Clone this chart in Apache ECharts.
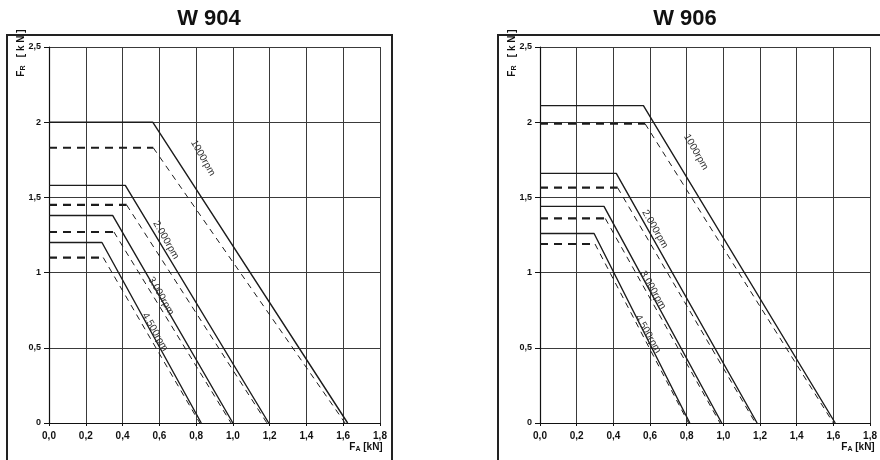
<!DOCTYPE html>
<html><head><meta charset="utf-8">
<script src="https://cdn.jsdelivr.net/npm/echarts@6/dist/echarts.min.js"></script>
<style>html,body{margin:0;padding:0;background:#fff}#c{width:880px;height:460px}</style>
</head><body><div id="c"></div>
<script>
// ---- data ----
const models = ['W 904', 'W 906'];
const rpmLabels = ['1000rpm', '2.000rpm', '3.000rpm', '4.500rpm'];
const xTicks = ['0,0', '0,2', '0,4', '0,6', '0,8', '1,0', '1,2', '1,4', '1,6', '1,8'];
const yTicks = ['0', '0,5', '1', '1,5', '2', '2,5'];

// W 904 : solid (level, knee x, zero crossing x) and dashed (level, knee x, zero crossing x)
const w904SolidLevel = [2.00, 1.58, 1.38, 1.20];
const w904SolidKnee  = [0.564, 0.415, 0.346, 0.288];
const w904SolidEnd   = [1.624, 1.195, 1.000, 0.828];
const w904DashLevel  = [1.83, 1.45, 1.27, 1.10];
const w904DashKnee   = [0.567, 0.422, 0.353, 0.295];
const w904DashEnd    = [1.610, 1.185, 0.990, 0.820];

// W 906
const w906SolidLevel = [2.11, 1.66, 1.44, 1.26];
const w906SolidKnee  = [0.564, 0.416, 0.349, 0.295];
const w906SolidEnd   = [1.610, 1.184, 0.991, 0.817];
const w906DashLevel  = [1.99, 1.565, 1.36, 1.19];
const w906DashKnee   = [0.573, 0.423, 0.356, 0.300];
const w906DashEnd    = [1.600, 1.175, 0.982, 0.810];

// ---- layout ----
const FONT = '"Liberation Sans", Arial, sans-serif';
const gridsPx = [
  {left: 49, top: 47, width: 331, height: 376},
  {left: 540, top: 47, width: 332, height: 376}
];
const titleX = [209, 685];
const labelPos = [
  [[203, 158], [166, 240], [161, 296], [155, 332]],
  [[696, 152], [655, 229], [653, 290], [648, 334]]
];

const sets = [
  [w904SolidLevel, w904SolidKnee, w904SolidEnd, w904DashLevel, w904DashKnee, w904DashEnd],
  [w906SolidLevel, w906SolidKnee, w906SolidEnd, w906DashLevel, w906DashKnee, w906DashEnd]
];

const LINE = '#1c1c1c';
const GRID = '#3a3a3a';

const xAxes = [], yAxes = [], series = [];
gridsPx.forEach((g, gi) => {
  xAxes.push({
    type: 'value', gridIndex: gi, min: 0, max: 1.8, interval: 0.2,
    axisLine: {show: true, onZero: false, lineStyle: {color: '#111', width: 1.2}},
    axisTick: {show: true, length: 3, lineStyle: {color: '#111'}},
    splitLine: {show: true, lineStyle: {color: GRID, width: 1}},
    axisLabel: {
      margin: 8, color: '#111', fontWeight: 'bold', fontSize: 10, fontFamily: FONT,
      formatter: v => xTicks[Math.round(v / 0.2)]
    }
  });
  yAxes.push({
    type: 'value', gridIndex: gi, min: 0, max: 2.5, interval: 0.5,
    axisLine: {show: true, onZero: false, lineStyle: {color: '#111', width: 1.2}},
    axisTick: {show: true, length: 5, lineStyle: {color: '#111'}},
    splitLine: {show: true, lineStyle: {color: GRID, width: 1}},
    axisLabel: {
      margin: 8, color: '#111', fontWeight: 'bold', fontSize: 9, fontFamily: FONT,
      formatter: v => yTicks[Math.round(v / 0.5)]
    }
  });
  const [sl, sk, se, dl, dk, de] = sets[gi];
  for (let i = 0; i < sl.length; i++) {
    series.push({
      type: 'line', xAxisIndex: gi, yAxisIndex: gi, symbol: 'none', silent: true, z: 4,
      data: [[0, sl[i]], [sk[i], sl[i]], [se[i], 0]],
      lineStyle: {color: LINE, width: 1.4}
    });
    series.push({
      type: 'line', xAxisIndex: gi, yAxisIndex: gi, symbol: 'none', silent: true, z: 3,
      data: [[0, dl[i]], [dk[i], dl[i]]],
      lineStyle: {color: LINE, width: 2.2, type: [8, 6]}
    });
    series.push({
      type: 'line', xAxisIndex: gi, yAxisIndex: gi, symbol: 'none', silent: true, z: 3,
      data: [[dk[i], dl[i]], [de[i], 0]],
      lineStyle: {color: LINE, width: 1, type: [6, 5]}
    });
  }
});

const graphic = [];
// frames
graphic.push({type: 'polyline', silent: true, z: 10,
  shape: {points: [[7, 470], [7, 35], [392, 35], [392, 470]]},
  style: {stroke: '#222', lineWidth: 2, fill: null}});
graphic.push({type: 'polyline', silent: true, z: 10,
  shape: {points: [[498, 470], [498, 35], [890, 35]]},
  style: {stroke: '#222', lineWidth: 2, fill: null}});
models.forEach((m, gi) => {
  graphic.push({type: 'text', x: titleX[gi], y: 19, silent: true, z: 10,
    style: {text: m, font: 'bold 22px ' + FONT, fill: '#111', align: 'center', verticalAlign: 'middle'}});
  const g = gridsPx[gi];
  // y-axis name
  graphic.push({type: 'text', x: g.left - 28, y: 53, rotation: Math.PI / 2, silent: true, z: 11,
    style: {text: '{a|F}{b|R}{a|   [ k N ]}', align: 'center', verticalAlign: 'middle',
      rich: {a: {fontSize: 10, fontWeight: 'bold', fontFamily: FONT, fill: '#111', lineHeight: 12},
             b: {fontSize: 7, fontWeight: 'bold', fontFamily: FONT, fill: '#111', verticalAlign: 'bottom', lineHeight: 12}}}});
  // x-axis name
  graphic.push({type: 'text', x: g.left + g.width - 14, y: 447, silent: true, z: 11,
    style: {text: '{a|F}{b|A}{a| [kN]}', align: 'center', verticalAlign: 'middle',
      rich: {a: {fontSize: 10, fontWeight: 'bold', fontFamily: FONT, fill: '#111', lineHeight: 12},
             b: {fontSize: 7, fontWeight: 'bold', fontFamily: FONT, fill: '#111', verticalAlign: 'bottom', lineHeight: 12}}}});
  rpmLabels.forEach((t, i) => {
    const p = labelPos[gi][i];
    graphic.push({type: 'text', x: p[0], y: p[1], rotation: -60 * Math.PI / 180, silent: true, z: 12,
      style: {text: t, font: '10px ' + FONT, fill: '#333', align: 'center', verticalAlign: 'middle'}});
  });
});

const chart = echarts.init(document.getElementById('c'), null, {renderer: 'canvas'});
chart.setOption({
  animation: false,
  backgroundColor: '#fff',
  grid: gridsPx.map(g => Object.assign({containLabel: false}, g)),
  xAxis: xAxes,
  yAxis: yAxes,
  series: series,
  graphic: graphic
});
</script>
</body></html>
